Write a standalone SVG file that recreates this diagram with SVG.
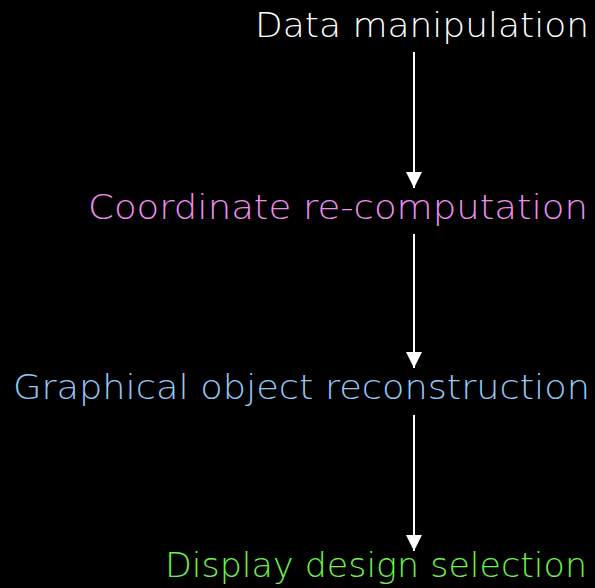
<svg xmlns="http://www.w3.org/2000/svg" width="595" height="588" viewBox="0 0 595 588">
  <style>
    .label { font-family: "DejaVu Sans", "Liberation Sans", sans-serif; font-weight: 200; font-size: 33px; text-anchor: end; }
    .edge { stroke: #ffffff; stroke-width: 2; fill: none; marker-end: url(#arrow); }
  </style>
  <defs>
    <!-- solid white arrowhead, tip at the line end -->
    <marker id="arrow" markerUnits="userSpaceOnUse" markerWidth="16" markerHeight="16" viewBox="0 0 16 16" refX="16" refY="8" orient="auto">
      <path d="M0,0 L16,8 L0,16 Z" fill="#ffffff"/>
    </marker>
  </defs>
  <rect width="595" height="588" fill="#000000"/>

  <g id="connectors">
    <line class="edge" x1="414" y1="52" x2="414" y2="188"/>
    <line class="edge" x1="414" y1="234" x2="414" y2="368"/>
    <line class="edge" x1="414" y1="415" x2="414" y2="551"/>
  </g>

  <g id="data-manipulation">
    <text class="label" x="589" y="37" fill="#ffffff" textLength="334" lengthAdjust="spacingAndGlyphs">Data manipulation</text>
  </g>
  <g id="coordinate-recomputation">
    <text class="label" x="588" y="219" fill="#f08cf0" textLength="500" lengthAdjust="spacingAndGlyphs">Coordinate re-computation</text>
  </g>
  <g id="graphical-object-reconstruction">
    <text class="label" x="590" y="399" fill="#94c8f8" textLength="577" lengthAdjust="spacingAndGlyphs">Graphical object reconstruction</text>
  </g>
  <g id="display-design-selection">
    <text class="label" x="587" y="577" fill="#6cf248" textLength="422" lengthAdjust="spacingAndGlyphs">Display design selection</text>
  </g>
</svg>
